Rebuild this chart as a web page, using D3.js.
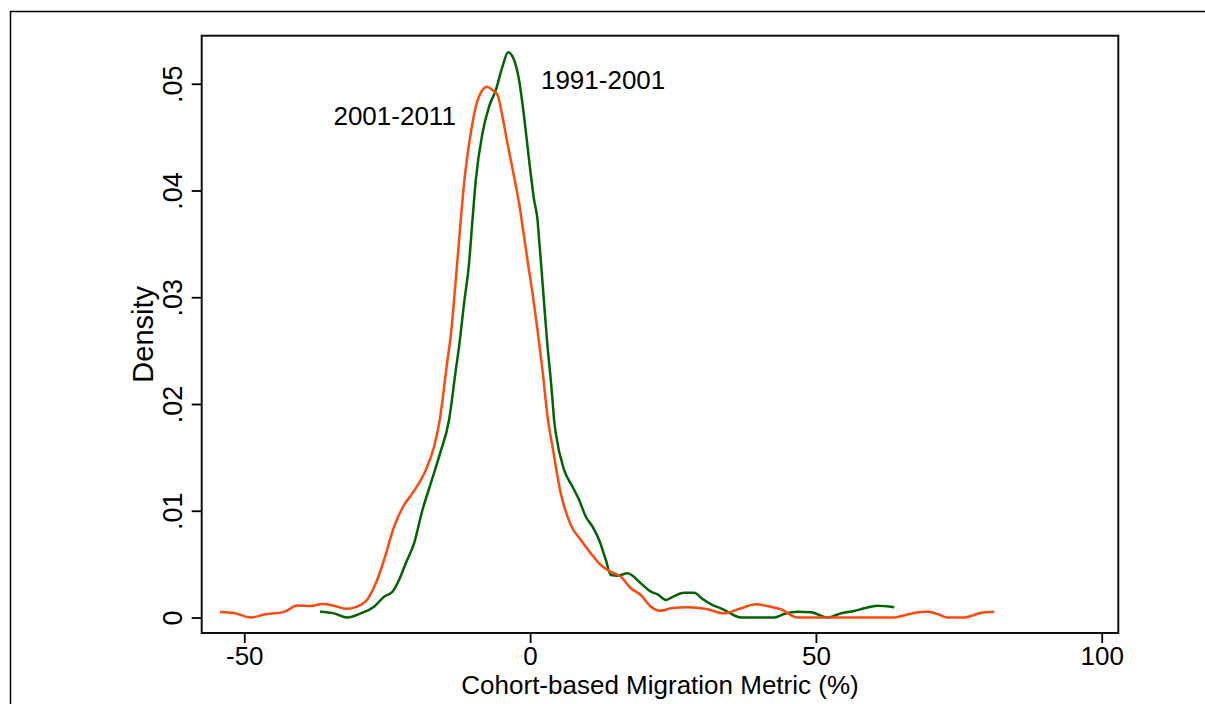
<!DOCTYPE html>
<html>
<head>
<meta charset="utf-8">
<script src="https://cdn.jsdelivr.net/npm/d3@7"></script>
<style>
  html, body { margin: 0; padding: 0; background: #fff; }
  svg { display: block; }
  text { font-family: "Liberation Sans", Arial, Helvetica, sans-serif; fill: #000; }
</style>
</head>
<body>
<svg id="chart" width="1205" height="704"></svg>
<script>
// ---- data ----
const xTicks = [-50, 0, 50, 100];
const yTicks = [0, 0.01, 0.02, 0.03, 0.04, 0.05];
const yTickLabels = ["0", ".01", ".02", ".03", ".04", ".05"];
const seriesNames = ["1991-2001", "2001-2011"];

// kernel density, 1991-2001 : [metric %, density]
const density1991 = [
  [-36.75,0.00054],[-34.3,0.00039],[-31.96,0],[-29.63,0.00039],[-27.3,0.00101],[-25.55,0.00195],
  [-24.08,0.00242],[-22.93,0.00351],[-21.75,0.00508],[-20.3,0.00695],[-18.83,0.01007],[-17.38,0.01257],
  [-15.75,0.01538],[-14.18,0.0185],[-13.0,0.02318],[-12.43,0.02537],[-11.55,0.02943],[-10.68,0.03318],
  [-10.08,0.03724],[-9.5,0.04098],[-8.33,0.04536],[-7.18,0.04785],[-6.0,0.04941],[-4.83,0.0516],
  [-3.85,0.05295],[-2.8,0.05222],[-1.93,0.05035],[-1.05,0.04691],[-0.18,0.04286],[0.7,0.03911],
  [1.3,0.03724],[1.58,0.03536],[1.87,0.03349],[2.45,0.02943],[3.05,0.02537],[3.62,0.02225],
  [3.92,0.02037],[4.2,0.0185],[4.5,0.01725],[5.95,0.01382],[7.42,0.01225],[8.58,0.01101],
  [9.75,0.00944],[10.92,0.00851],[12.08,0.00726],[13.25,0.00539],[14.12,0.00398],[15.3,0.00392],
  [17.05,0.00414],[19.37,0.0032],[21.12,0.00242],[22.3,0.00217],[23.75,0.00164],[25.2,0.00201],
  [26.95,0.00232],[28.7,0.00232],[30.17,0.00173],[31.92,0.00117],[33.37,0.00086],[34.55,0.00054],
  [36.87,0],[42.7,0],[44.45,0.00033],[46.8,0.00054],[49.12,0.00049],[52.05,0],
  [54.37,0.00039],[56.7,0.00061],[58.45,0.00086],[60.8,0.0011],[63.7,0.00096]
];

// kernel density, 2001-2011 : [metric %, density]
const density2001 = [
  [-54.25,0.00052],[-51.8,0.00042],[-48.9,0],[-46.55,0.00028],[-43.05,0.00053],[-40.7,0.00112],
  [-38.4,0.00108],[-36.3,0.00126],[-34.3,0.0011],[-32.1,0.00082],[-30.5,0.00098],[-28.45,0.00171],
  [-27.0,0.0032],[-25.55,0.00539],[-23.8,0.0085],[-22.05,0.01054],[-20.6,0.01163],[-18.25,0.01382],
  [-16.8,0.016],[-15.9,0.01819],[-14.45,0.02412],[-13.9,0.0263],[-13.0,0.03162],[-12.13,0.03724],
  [-11.55,0.04067],[-10.38,0.04536],[-9.5,0.04785],[-8.33,0.04941],[-7.58,0.04972],[-6.58,0.04941],
  [-5.7,0.04895],[-4.83,0.04691],[-3.96,0.04442],[-2.8,0.04129],[-1.93,0.0388],[-1.05,0.03567],
  [-0.46,0.03349],[0.42,0.03037],[1.3,0.02693],[2.17,0.02318],[3.05,0.01881],[3.92,0.016],
  [5.37,0.01163],[7.12,0.00867],[8.87,0.00726],[10.62,0.00601],[12.37,0.00492],[14.12,0.00429],
  [15.87,0.00382],[17.62,0.00274],[19.37,0.00211],[21.12,0.00101],[22.87,0.00064],[24.62,0.00086],
  [27.55,0.00096],[29.87,0.00086],[31.05,0.00077],[33.95,0.00039],[36.87,0.00086],[39.5,0.00124],
  [42.12,0.00101],[43.87,0.00077],[46.8,0],[55,0],[63.7,0],[66,0.00028],
  [68.37,0.00052],[69.55,0.00054],[71.5,0.00028],[73.05,0],[75.95,0],[77.5,0.0002],
  [78.87,0.00045],[81.2,0.00054]
];

// annotation anchor points (data units: metric %, density at baseline)
const labelX = [1.9, -34.4];
const labelY = [0.0495, 0.0461];

// ---- drawing ----
const svg = d3.select("#chart");
const plotLeft = 201.7, plotRight = 1118.3, plotTop = 35.7, plotBottom = 633;

const x = d3.scaleLinear().domain([-57.45, 102.9]).range([plotLeft, plotRight]);
const y = d3.scaleLinear().domain([-0.00145, 0.0545]).range([plotBottom, plotTop]);

// outer frame (extends beyond the viewport to the right and bottom)
svg.append("rect")
  .attr("x", 10.5).attr("y", 11.5).attr("width", 1300).attr("height", 800)
  .attr("fill", "none").attr("stroke", "#000").attr("stroke-width", 1.5);

// plot frame
svg.append("rect")
  .attr("x", plotLeft).attr("y", plotTop)
  .attr("width", plotRight - plotLeft).attr("height", plotBottom - plotTop)
  .attr("fill", "#fff").attr("stroke", "#111").attr("stroke-width", 2);

// x axis
const xAxis = svg.append("g")
  .attr("transform", `translate(0,${plotBottom})`)
  .call(d3.axisBottom(x).tickValues(xTicks).tickSize(10).tickPadding(6).tickFormat(d3.format("d")));
xAxis.select(".domain").remove();
xAxis.selectAll(".tick line").attr("stroke", "#000").attr("stroke-width", 1.8);
xAxis.selectAll(".tick text")
  .attr("font-size", 26).attr("fill", "#000")
  .attr("dy", null).attr("y", 32)
  .text(d => d < 0 ? "-" + Math.abs(d) : String(d));

// y axis
const yAxis = svg.append("g")
  .attr("transform", `translate(${plotLeft},0)`)
  .call(d3.axisLeft(y).tickValues(yTicks).tickSize(10).tickFormat((d, i) => yTickLabels[i]));
yAxis.select(".domain").remove();
yAxis.selectAll(".tick line").attr("stroke", "#000").attr("stroke-width", 1.8);
yAxis.selectAll(".tick text")
  .attr("font-size", 27).attr("fill", "#000")
  .attr("x", null).attr("dy", null)
  .attr("text-anchor", "middle")
  .attr("transform", "translate(-20,0) rotate(-90)");

// axis titles
svg.append("text")
  .attr("x", (plotLeft + plotRight) / 2).attr("y", 694)
  .attr("text-anchor", "middle").attr("font-size", 26)
  .text("Cohort-based Migration Metric (%)");

svg.append("text")
  .attr("transform", `translate(153,${(plotTop + plotBottom) / 2}) rotate(-90)`)
  .attr("text-anchor", "middle").attr("font-size", 29)
  .text("Density");

// density lines
const line = d3.line()
  .x(d => x(d[0])).y(d => y(d[1]))
  .curve(d3.curveMonotoneX);

const g = svg.append("g");
g.append("path").datum(density1991)
  .attr("d", line).attr("fill", "none")
  .attr("stroke", "#006400").attr("stroke-width", 2.5).attr("stroke-linejoin", "round");
g.append("path").datum(density2001)
  .attr("d", line).attr("fill", "none")
  .attr("stroke", "#ff4a0f").attr("stroke-width", 2.5).attr("stroke-linejoin", "round");

// series annotations
seriesNames.forEach((name, i) => {
  svg.append("text")
    .attr("x", x(labelX[i])).attr("y", y(labelY[i]))
    .attr("font-size", 26)
    .text(name);
});
</script>
</body>
</html>
